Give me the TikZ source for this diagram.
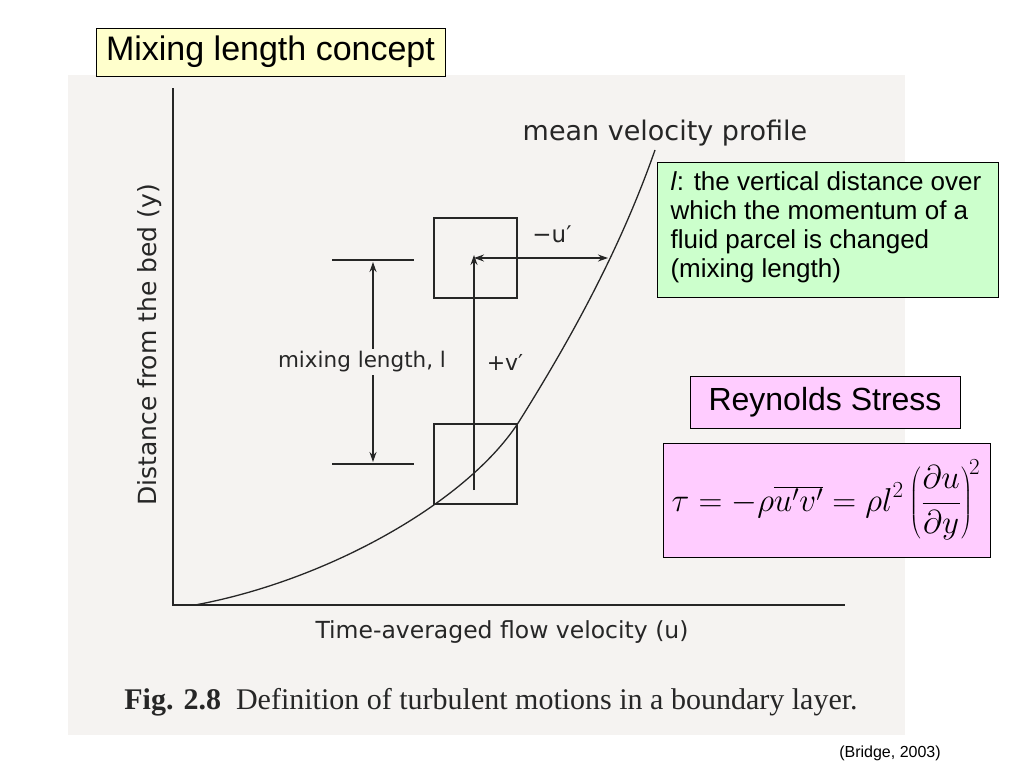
\documentclass[tikz,border=0pt]{standalone}
\usepackage{fontspec}
\setmainfont{Liberation Sans}
\newfontfamily\serif{Liberation Serif}
\newfontfamily\figf{DejaVu Sans}
\usetikzlibrary{arrows.meta}
\definecolor{scan}{HTML}{F5F3F1}
\definecolor{ylw}{HTML}{FFFFCC}
\definecolor{grn}{HTML}{CCFFCC}
\definecolor{pnk}{HTML}{FFCCFF}
\tikzset{box/.style={draw=black,line width=0.8pt,inner sep=0pt},
 ln/.style={line width=1.3pt,draw=black!85},
 arr/.style={ln,-{Stealth[length=10pt,width=7pt]}},
 darr/.style={ln,{Stealth[length=10pt,width=7pt]}-{Stealth[length=10pt,width=7pt]}},
 ft/.style={font=\figf\fontsize{#1}{#1}\selectfont,text=black!85}}
\begin{document}
\begin{tikzpicture}[x=1pt,y=-1pt]
\useasboundingbox (0,0) rectangle (1024,768);
\fill[white] (0,0) rectangle (1024,768);
\fill[scan] (68,75) rectangle (905,735);
\node[box,fill=ylw,minimum width=349pt,minimum height=48pt,font=\fontsize{34}{38}\selectfont] (title) at (270.5,52) {Mixing length concept};
\coordinate (o) at (173,605);
\coordinate (yt) at (173,88);
\coordinate (xe) at (845,605);
\draw[ln] (yt) -- (o) -- (xe);
\draw[ln] (195,605) .. controls (330,580) and (470,500) .. (520,420) .. controls (570,340) and (620,250) .. (655,150);
\node[box,draw=black!85,line width=1.3pt,minimum width=83pt,minimum height=80pt] (up) at (475.5,258) {};
\node[box,draw=black!85,line width=1.3pt,minimum width=83pt,minimum height=80pt] (lo) at (475.5,464) {};
\coordinate (a0) at (474,490);
\coordinate (a1) at (474,255);
\coordinate (a2) at (608,258);
\draw[arr] (a0) -- (a1);
\draw[darr] (474,258) -- (a2);
\node[ft=23] (mu) at (552,234) {−u′};
\coordinate (t1) at (332,260); \coordinate (t2) at (414,260);
\coordinate (b1) at (332,464); \coordinate (b2) at (414,464);
\draw[ln] (t1) -- (t2); \draw[ln] (b1) -- (b2);
\draw[darr] (373,262) -- (373,462);
\node[ft=21.5,fill=scan,inner sep=3pt] (ml) at (362,362) {mixing length, l};
\node[ft=22] (pv) at (505,362) {+v′};
\node[ft=27] (mvp) at (665,133) {mean velocity profile};
\node[ft=25,rotate=90] (yl) at (150,345) {Distance from the bed (y)};
\node[ft=23.5] (xl) at (502,632) {Time-averaged flow velocity (u)};
\node[font=\serif\fontsize{30}{32}\selectfont,text=black!85] (cap) at (491,702) {\textbf{Fig. 2.8}\enspace Definition of turbulent motions in a boundary layer.};
\node[box,fill=grn,minimum width=341pt,minimum height=135pt] (gb) at (827.5,229.5) {};
\node[anchor=north west,align=left,font=\fontsize{26}{29}\selectfont] (gt) at (667,168) {\textit{l}: the vertical distance over\\which the momentum of a\\fluid parcel is changed\\(mixing length)};
\node[box,fill=pnk,minimum width=270pt,minimum height=52pt,font=\fontsize{32}{36}\selectfont] (rs) at (825,402) {Reynolds Stress};
\node[box,fill=pnk,minimum width=327pt,minimum height=114pt] (fb) at (826.5,500) {};
\node[scale=1.33,transform shape,font=\fontsize{24}{28}\selectfont] (eq) at (826,500) {$\displaystyle\tau=-\rho\overline{u'v'}=\rho l^2\left(\frac{\partial u}{\partial y}\right)^{\!2}$};
\node[font=\fontsize{16}{18}\selectfont] (src) at (890,753) {(Bridge, 2003)};
\end{tikzpicture}
\end{document}
